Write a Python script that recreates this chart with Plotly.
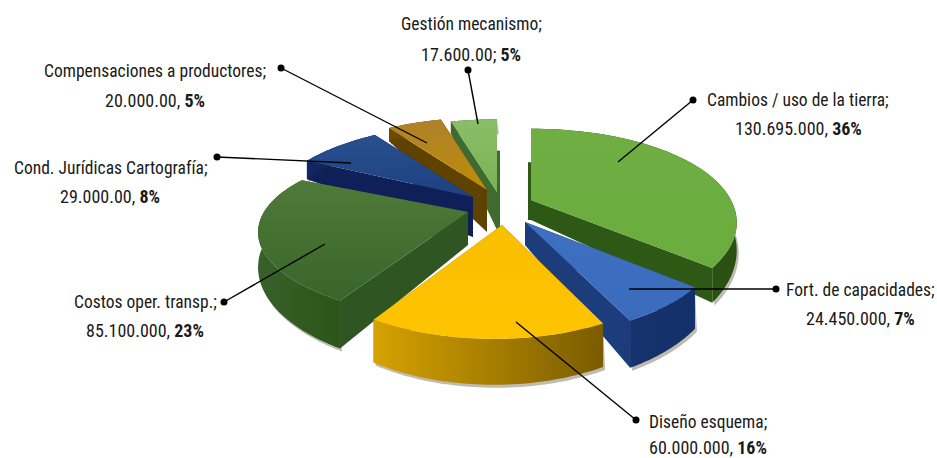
import math
import plotly.graph_objects as go

# ---- data ----
categories = ["Cambios / uso de la tierra", "Fort. de capacidades", "Diseño esquema",
              "Costos oper. transp.", "Cond. Jurídicas Cartografía",
              "Compensaciones a productores", "Gestión mecanismo"]
values = [130695000, 24450000, 60000000, 85100000, 29000000, 20000000, 17600000]
value_labels = ["130.695.000", "24.450.000", "60.000.000", "85.100.000",
                "29.000.00", "20.000.00", "17.600.00"]
percent_labels = ["36%", "7%", "16%", "23%", "8%", "5%", "5%"]
separators = [",", ",", ",", ",", ",", ",", ";"]

# ---- layout / style ----
W, H = 937, 458
R, K, P = 204, 0.475, 0.25          # radius, tilt, perspective
apex = [(531, 200), (525, 222), (502, 225), (468, 212), (473, 197), (487, 190), (497, 192)]
arc_cx = [531, 521, 494, 468, 473, 487, 497]
scale = [0.98, 0.94, 0.94, 1, 1, 1, 1]
ky = [1, 1, 1, 0.88, 1, 1, 1]
depth_mul = [1, 1.1, 1, 1.2, 1, 1, 1]
apex_depth = [20, 23, 30, 33, 40, 42, 38]
slivers = {0: (-3, 0.53), 6: (3, 0.57)}
top_cols = [("#6AAC3E", "#6FAE43"), ("#3A6BBC", "#3F70C0"), ("#FFC400", "#F8BE00"),
            ("#38652A", "#4F7A39"), ("#1E4180", "#28508F"), ("#BE8C05", "#AE812C"),
            ("#79B356", "#8ABD68")]
face_cols = ["#2E5816", "#1C3C7C", "#9A7600", "#2F5522", "#0F2058", "#5F4200", "#3F6B30"]
rim_cols = [("#2E5816", "#2A5014"), ("#17336F", "#14306A"), ("#D6A200", "#7A5C00"),
            ("#38602A", "#2C5518"), ("#13265F", "#0F2058"), ("#6B4C00", "#5F4200"),
            ("#3F6B30", "#3F6B30")]
draw_order = [6, 5, 4, 0, 3, 1, 2]
label_pos = [(798, 100, 128), (860, 290, 318), (708, 422, 447), (145, 302, 330),
             (110, 168, 196), (155, 71, 100), (471, 24, 54)]
leaders = [((693, 100), (618, 162)), ((776, 289), (629, 289)), ((636, 420), (516, 322)),
           ((224, 302), (325, 244)), ((217, 157), (351, 163)), ((281, 68), (427, 143)),
           ((468, 70), (478, 124))]
FONT = "Roboto Condensed, Liberation Sans Narrow, sans-serif"


def pt(cx, cy, theta, f, k):
    c, s = math.cos(theta), math.sin(theta)
    p = 1 - P * c
    return cx + R * f * s * p, cy - R * f * K * k * c * p


def depth(y):
    return 12 + (y - 120) * 0.155


def poly(xs, ys, cols=None, kind="vertical", solid=None):
    t = dict(x=xs + xs[:1], y=ys + ys[:1], mode="none", fill="toself",
             hoverinfo="skip", showlegend=False)
    if solid:
        t["fillcolor"] = solid
    else:
        t["fillgradient"] = dict(type=kind, colorscale=[[0, cols[0]], [1, cols[1]]])
    return go.Scatter(**t)


total = sum(values)
spans, acc = [], 0
for v in values:
    spans.append((2 * math.pi * acc / total, 2 * math.pi * (acc + v) / total))
    acc += v

fig = go.Figure()
for i in draw_order:
    a, (t0, t1), f = apex[i], spans[i], scale[i]
    n = 48
    arc = [pt(arc_cx[i], a[1], t0 + (t1 - t0) * j / n, f, ky[i]) for j in range(n + 1)]
    low = [(x, y + depth(y) * depth_mul[i]) for x, y in arc]
    ax_, ay_ = a[0], a[1] + apex_depth[i]
    sh = [(x + 2, y + 3) for x, y in reversed(low)]
    fig.add_trace(poly([p[0] for p in arc] + [p[0] for p in sh],
                       [p[1] for p in arc] + [p[1] for p in sh],
                       solid="rgba(70,60,30,0.35)"))
    if i in slivers:
        off, frac = slivers[i]
        c = arc[0] if off < 0 else arc[-1]
        qx, qy = a[0] + frac * (c[0] - a[0]), a[1] + frac * (c[1] - a[1])
        fig.add_trace(poly([qx, a[0], a[0] + off, qx + off], [qy, ay_, ay_, qy],
                           solid=face_cols[i]))
    for c, l in ((arc[0], low[0]), (arc[-1], low[-1])):
        fig.add_trace(poly([a[0], c[0], l[0], ax_], [a[1], c[1], l[1], ay_], solid=face_cols[i]))
    fig.add_trace(poly([p[0] for p in arc] + [p[0] for p in reversed(low)],
                       [p[1] for p in arc] + [p[1] for p in reversed(low)],
                       cols=rim_cols[i], kind="horizontal"))
    fig.add_trace(poly([a[0]] + [p[0] for p in arc], [a[1]] + [p[1] for p in arc],
                       cols=top_cols[i], kind="vertical"))

for (d, e) in leaders:
    fig.add_trace(go.Scatter(x=[d[0], e[0]], y=[d[1], e[1]], mode="lines",
                             line=dict(color="#000", width=1.4), hoverinfo="skip", showlegend=False))
    fig.add_trace(go.Scatter(x=[d[0]], y=[d[1]], mode="markers",
                             marker=dict(color="#000", size=7), hoverinfo="skip", showlegend=False))

for i, name in enumerate(categories):
    x, y1, y2 = label_pos[i]
    fig.add_annotation(x=x, y=y1, text=name + ";", showarrow=False, xanchor="center", yanchor="middle",
                       font=dict(family=FONT, size=17.5, color="#1a1a1a"))
    fig.add_annotation(x=x, y=y2, showarrow=False, xanchor="center", yanchor="middle",
                       text=f"{value_labels[i]}{separators[i]} <b>{percent_labels[i]}</b>",
                       font=dict(family=FONT, size=18, color="#1a1a1a"))

fig.update_layout(width=W, height=H, margin=dict(l=0, r=0, t=0, b=0),
                  paper_bgcolor="white", plot_bgcolor="white", showlegend=False,
                  xaxis=dict(range=[0, W], visible=False, fixedrange=True),
                  yaxis=dict(range=[H, 0], visible=False, fixedrange=True))
fig.write_html("out.html", config={"displayModeBar": False},
               post_script="document.body.style.margin='0';document.documentElement.style.overflow='hidden';")
